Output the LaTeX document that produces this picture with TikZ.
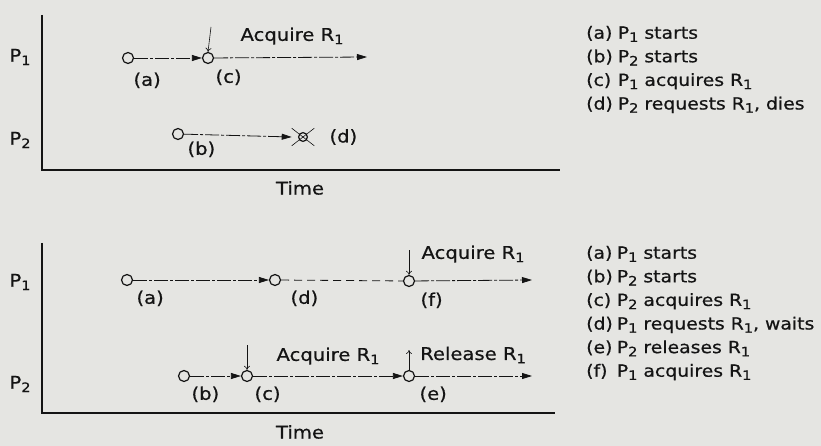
\documentclass[tikz,border=0pt]{standalone}
\usepackage{fontspec}
\setmainfont{DejaVu Sans}[FakeStretch=1.12, FakeBold=0.6]
\usetikzlibrary{%
	arrows.meta,%
	shapes.misc,%
	positioning,%
}
\definecolor{cpaper}{RGB}{229, 229, 226}
\definecolor{cink}{RGB}{20, 20, 20}
\newcommand{\lowsub}[1]{\raisebox{-0.35ex}{\fontsize{13}{13}\selectfont #1}}
\tikzset{
	>={Triangle[length=10pt,width=6pt]},%
	event/.style={%
			draw=cink,%
			circle,%
			very thick,%
			minimum size=11pt,%
			inner sep=0pt},%
	dead/.style={%
			draw=cink,%
			cross out,%
			semithick,%
			minimum width=22pt,%
			minimum height=17pt,%
			inner sep=0pt},%
	tag/.style={%
			inner sep=1pt,%
			text=cink,%
			font=\fontsize{17.5}{20}\selectfont},%
	flow/.style={%
			->,%
			cink,%
			thick,%
			dash pattern=on 14pt off 2pt on 3pt off 2pt},%
	wait/.style={%
			cink,%
			thick,%
			dash pattern=on 8pt off 5pt},%
	axis/.style={%
			cink,%
			line width=1.6pt},%
	marker/.style={%
			-{To[length=4pt,width=6pt]},%
			cink,%
			semithick},%
	legend/.style={%
			inner sep=0pt,%
			anchor=north west,%
			text=cink,%
			font=\fontsize{16.8}{23.6}\selectfont},%
}

\begin{document}
\begin{tikzpicture}[x=1pt, y=-1pt]
	\fill[cpaper] (0,0) rectangle (821,446);
	\useasboundingbox (0,0) rectangle (821,446);

	% upper case: P2 dies
	\coordinate (top origin) at (42,170);
	\coordinate (top ymax) at (42,15);
	\coordinate (top xmax) at (560,170);
	\draw[axis] (top ymax) -- (top origin) -- (top xmax);
	\node[tag] (top p1) at (20,57) {P\lowsub{1}};
	\node[tag] (top p2) at (20,140) {P\lowsub{2}};
	\node[tag] (top time) at (300,188) {Time};

	\node[event] (top a) at (128,58) {};
	\node[event] (top c) at (208,58) {};
	\coordinate (top end) at (367,57);
	\node[event] (top b) at (178,134) {};
	\node[event, scale=0.8] (top d) at (303,137) {};
	\node[dead] (top dx) at (top d.center) {};
	\coordinate (top req) at (211,27);

	\draw[flow] (top a) -- (top c);
	\draw[flow] (top c) -- (top end);
	\draw[flow] (top b) -- (top dx.west);
	\draw[marker] (top req) -- (top c.north);

	\node[tag] (top acq) at (292,36) {Acquire R\lowsub{1}};
	\node[tag, below right=9pt and 0pt of top a] (top la) {(a)};
	\node[tag, below right=6pt and 2pt of top c] (top lc) {(c)};
	\node[tag, below right=2pt and 4pt of top b] (top lb) {(b)};
	\node[tag, right=14pt of top dx] (top ld) {(d)};

	\node[legend] (top legend) at (586,22) {\begin{tabular}{@{}l@{\hspace{5pt}}l@{}}
			(a) & P\lowsub{1} starts              \\
			(b) & P\lowsub{2} starts              \\
			(c) & P\lowsub{1} acquires R\lowsub{1} \\
			(d) & P\lowsub{2} requests R\lowsub{1}, dies \\
		\end{tabular}};

	% lower case: P1 waits
	\coordinate (bot origin) at (42,413);
	\coordinate (bot ymax) at (42,243);
	\coordinate (bot xmax) at (555,413);
	\draw[axis] (bot ymax) -- (bot origin) -- (bot xmax);
	\node[tag] (bot p1) at (20,282) {P\lowsub{1}};
	\node[tag] (bot p2) at (20,384) {P\lowsub{2}};
	\node[tag] (bot time) at (300,432) {Time};

	\node[event] (bot a) at (127,280) {};
	\node[event] (bot d) at (275,280) {};
	\node[event] (bot f) at (409,281) {};
	\coordinate (bot end1) at (532,280);
	\node[event] (bot b) at (184,376) {};
	\node[event] (bot c) at (247,376) {};
	\node[event] (bot e) at (409,376) {};
	\coordinate (bot end2) at (532,376);
	\coordinate (bot req f) at (409,250);
	\coordinate (bot req c) at (247,345);
	\coordinate (bot rel e) at (409,350);

	\draw[flow] (bot a) -- (bot d);
	\draw[wait] (bot d) -- (bot f);
	\draw[flow] (bot f) -- (bot end1);
	\draw[flow] (bot b) -- (bot c);
	\draw[flow] (bot c) -- (bot e);
	\draw[flow] (bot e) -- (bot end2);
	\draw[marker] (bot req f) -- (bot f.north);
	\draw[marker] (bot req c) -- (bot c.north);
	\draw[marker] (bot e.north) -- (bot rel e);

	\node[tag] (bot acq1) at (473,254) {Acquire R\lowsub{1}};
	\node[tag] (bot acq2) at (328,356) {Acquire R\lowsub{1}};
	\node[tag] (bot rel) at (473,355) {Release R\lowsub{1}};
	\node[tag, below right=5pt and 4pt of bot a] (bot la) {(a)};
	\node[tag, below right=5pt and 10pt of bot d] (bot ld) {(d)};
	\node[tag, below right=6pt and 6pt of bot f] (bot lf) {(f)};
	\node[tag, below right=5pt and 2pt of bot b] (bot lb) {(b)};
	\node[tag, below right=5pt and 2pt of bot c] (bot lc) {(c)};
	\node[tag, below right=5pt and 5pt of bot e] (bot le) {(e)};

	\node[legend] (bot legend) at (586,242) {\begin{tabular}{@{}l@{\hspace{4pt}}l@{}}
			(a) & P\lowsub{1} starts                    \\
			(b) & P\lowsub{2} starts                    \\
			(c) & P\lowsub{2} acquires R\lowsub{1}       \\
			(d) & P\lowsub{1} requests R\lowsub{1}, waits \\
			(e) & P\lowsub{2} releases R\lowsub{1}       \\
			(f) & P\lowsub{1} acquires R\lowsub{1}       \\
		\end{tabular}};
\end{tikzpicture}
\end{document}
